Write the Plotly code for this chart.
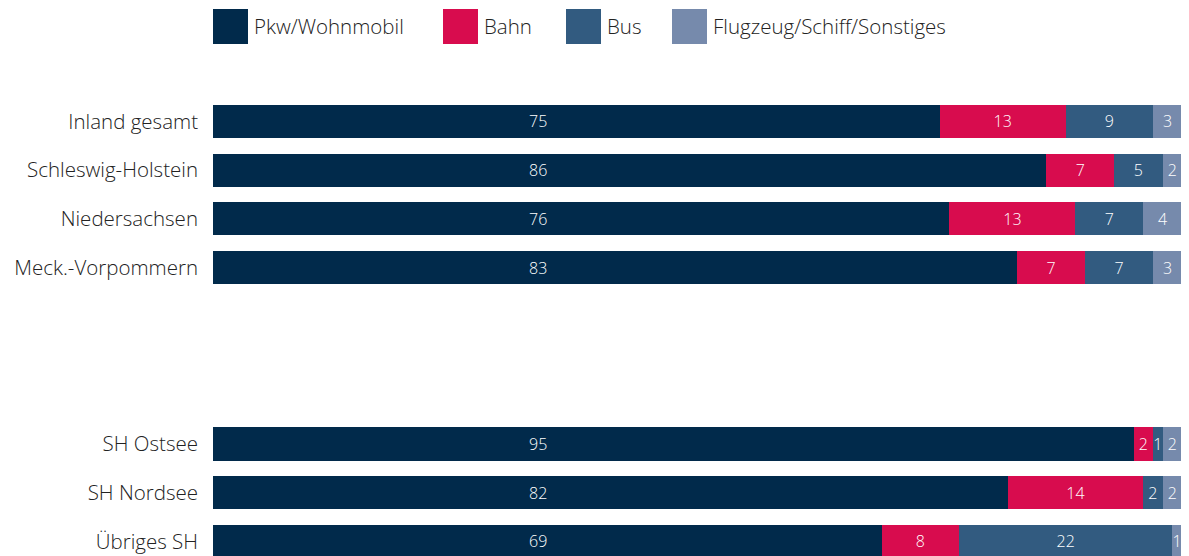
import plotly.graph_objects as go

categories = ["Inland gesamt", "Schleswig-Holstein", "Niedersachsen", "Meck.-Vorpommern",
              "SH Ostsee", "SH Nordsee", "Übriges SH"]
positions = [0, 1, 2, 3, 6.62, 7.62, 8.62]

series_names = ["Pkw/Wohnmobil", "Bahn", "Bus", "Flugzeug/Schiff/Sonstiges"]
pkw = [75, 86, 76, 83, 95, 82, 69]
bahn = [13, 7, 13, 7, 2, 14, 8]
bus = [9, 5, 7, 7, 1, 2, 22]
sonst = [3, 2, 4, 3, 2, 2, 1]
values = [pkw, bahn, bus, sonst]
colors = ["#012A4B", "#D80C4E", "#325B80", "#768AAC"]

FONT = "Open Sans"
W, H = 1189, 556
OFF = 8  # page body offset
L, R, T, B = 213 - OFF, 15, 97 - OFF, OFF
PW = W - L - R
PH = H - T - B
PKW_LABEL_X = 33.5  # the first-series labels sit at a fixed x in the reference

fig = go.Figure()
for i, (name, vals, col) in enumerate(zip(series_names, values, colors)):
    fig.add_trace(go.Bar(
        y=positions, x=vals, name=name, orientation="h",
        marker=dict(color=col, line=dict(width=0)),
        width=0.68,
        text=None if i == 0 else [str(v) for v in vals],
        textposition="inside",
        insidetextanchor="middle",
        textfont=dict(color="white", size=16, family=FONT, weight=300),
        showlegend=False,
    ))

for v, p in zip(pkw, positions):
    fig.add_annotation(x=PKW_LABEL_X, y=p, xref="x", yref="y", text=str(v),
                       showarrow=False, xanchor="center", yanchor="middle",
                       font=dict(color="white", size=16, family=FONT, weight=300))


def px_x(sx):
    return (sx - OFF - L) / PW


def px_y(sy):
    return (H - B - (sy - OFF)) / PH


# manual legend (large square swatches)
legend_x = [213, 443, 566, 672]
for name, col, sx in zip(series_names, colors, legend_x):
    fig.add_shape(type="rect", xref="paper", yref="paper",
                  x0=px_x(sx), x1=px_x(sx + 35),
                  y0=px_y(44), y1=px_y(9),
                  fillcolor=col, line=dict(width=0), layer="above")
    fig.add_annotation(xref="paper", yref="paper",
                       x=px_x(sx + 39), y=px_y(26),
                       text=name, showarrow=False, xanchor="left", yanchor="middle",
                       font=dict(size=20.5, color="#222222", family=FONT, weight=300))

fig.update_layout(
    width=W, height=H,
    margin=dict(l=L, r=R, t=T, b=B, autoexpand=False),
    barmode="stack",
    plot_bgcolor="white", paper_bgcolor="white",
    uniformtext=dict(minsize=16, mode="show"),
    xaxis=dict(range=[0, 100], visible=False, fixedrange=True),
    yaxis=dict(range=[8.92, -0.5], tickvals=positions, ticktext=categories,
               showgrid=False, zeroline=False, showline=False, ticks="",
               ticklabelstandoff=14,
               tickfont=dict(size=20.5, color="#222222", family=FONT, weight=300)),
    font=dict(family=FONT),
)

fig.write_html("out.html")
